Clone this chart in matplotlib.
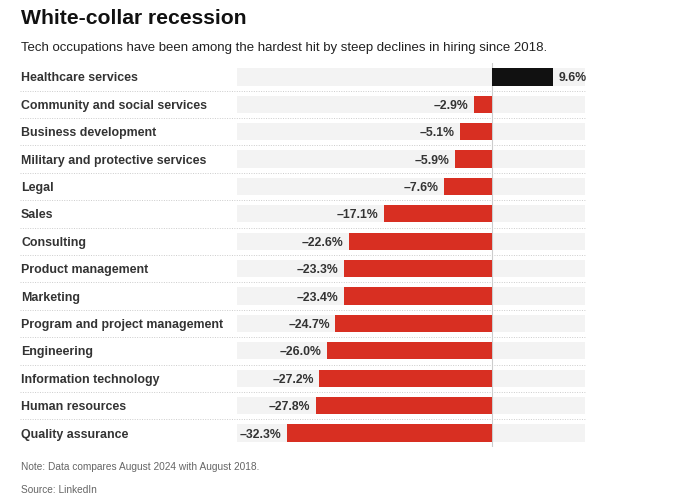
import matplotlib.pyplot as plt
from matplotlib.transforms import blended_transform_factory

plt.rcParams['font.family'] = ['Liberation Sans', 'DejaVu Sans']

occupations = ["Healthcare services", "Community and social services", "Business development",
               "Military and protective services", "Legal", "Sales", "Consulting",
               "Product management", "Marketing", "Program and project management",
               "Engineering", "Information technology", "Human resources", "Quality assurance"]
changes = [9.6, -2.9, -5.1, -5.9, -7.6, -17.1, -22.6, -23.3, -23.4, -24.7, -26.0, -27.2, -27.8, -32.3]

xmin, xmax = -40.2, 14.6

fig = plt.figure(figsize=(6.8, 5), dpi=100)
ax = fig.add_axes([0.3485, 0.1066, 0.5115, 0.767])
trans = blended_transform_factory(fig.transFigure, ax.transData)

y = list(range(len(occupations)))
ax.barh(y, [xmax - xmin] * len(y), left=xmin, height=0.63, color='#f3f3f3', zorder=0)
colors = ['#111111' if v > 0 else '#d82f22' for v in changes]
ax.barh(y, changes, height=0.63, color=colors, zorder=2)
ax.axvline(0, color='#cccccc', lw=0.8, zorder=1)

for yi, v, name in zip(y, changes, occupations):
    txt = f"{v:.1f}%".replace('-', '\u2013')
    off = 4 if v > 0 else -4
    ax.annotate(txt, (v, yi), xytext=(off, 0), textcoords='offset points',
                ha='left' if v > 0 else 'right', va='center_baseline',
                fontsize=8.8, fontweight='bold', color='#333333')
    ax.text(21 / 680, yi, name, transform=trans, fontsize=8.9, fontweight='bold',
            color='#333333', va='center_baseline', ha='left')

for k in range(len(y) - 1):
    ax.plot([20 / 680, 585 / 680], [k + 0.5, k + 0.5], transform=trans, color='#cccccc',
            lw=0.7, ls=(0, (1, 1.5)), clip_on=False)

ax.set_xlim(xmin, xmax)
ax.set_ylim(len(y) - 0.5, -0.5)
ax.axis('off')

fig.text(21 / 680, 1 - 17 / 500, "White-collar recession", fontsize=15.2, fontweight='bold',
         color='#111111', va='center_baseline', ha='left')
fig.text(21 / 680, 1 - 46 / 500, "Tech occupations have been among the hardest hit by steep declines in hiring since 2018.",
         fontsize=9.5, color='#222222', va='center_baseline', ha='left')
fig.text(21 / 680, 1 - 466 / 500, "Note: Data compares August 2024 with August 2018.",
         fontsize=7.3, color='#666666', va='center_baseline', ha='left')
fig.text(21 / 680, 1 - 489 / 500, "Source: LinkedIn", fontsize=7.3, color='#666666',
         va='center_baseline', ha='left')

fig.savefig('out.png', dpi=100, facecolor='white')
